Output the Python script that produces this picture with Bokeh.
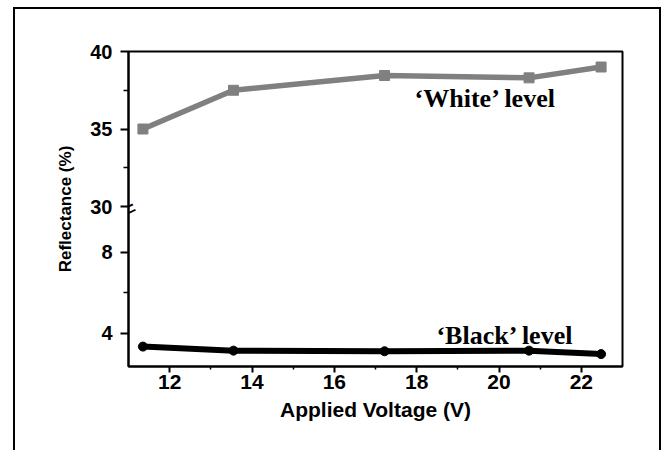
import math
from bokeh.plotting import figure
from bokeh.models import Range1d, LinearAxis, FixedTicker, Label, CustomJSTickFormatter
from bokeh.layouts import column
from bokeh.embed import file_html
from bokeh.resources import INLINE

# ---- data ----
voltage = [11.35, 13.55, 17.22, 20.73, 22.48]
white_level = [35.0, 37.5, 38.45, 38.3, 39.0]
black_level = [3.35, 3.15, 3.12, 3.15, 2.98]
x_ticks = [12, 14, 16, 18, 20, 22]
x_minor = [13, 15, 17, 19, 21]
upper_ticks = [30, 35, 40]
upper_minor = [32.5, 37.5]
lower_ticks = [4, 8]
lower_minor = [6]
white_text = "\u2018White\u2019 level"
black_text = "\u2018Black\u2019 level"

# ---- layout geometry (pixels) ----
FRAME_W, FRAME_H, PANEL_H = 494, 315, 155
X0, X1 = 11.0, 23.0
LOW0, LOW1 = 2.37, 10.0
UP0, UP1 = 30.0, 40.0

lo_per_px = (LOW1 - LOW0) / PANEL_H
up_per_px = (UP1 - UP0) / PANEL_H
m0, m1 = LOW0, LOW0 + FRAME_H * lo_per_px
u0, u1 = UP1 - FRAME_H * up_per_px, UP1
x_per_px = (X1 - X0) / FRAME_W


def to_main(v):
    return min(m0 + (v - u0) / up_per_px * lo_per_px, m1)


p = figure(width=644, height=441, x_range=Range1d(X0, X1), y_range=Range1d(m0, m1),
           output_backend="svg", toolbar_location=None,
           min_border_left=113, min_border_right=37, min_border_top=42, min_border_bottom=84,
           x_axis_location=None, y_axis_location=None)
p.extra_y_ranges = {"upper": Range1d(u0, u1)}
p.grid.visible = False
p.outline_line_color = "black"
p.outline_line_width = 2
p.background_fill_color = "white"
p.border_fill_color = "white"

SANS = "Liberation Sans"
SERIF = "Liberation Serif"

# left axis (broken)
yticker = FixedTicker(ticks=lower_ticks + [to_main(v) for v in upper_ticks],
                      minor_ticks=lower_minor + [to_main(v) for v in upper_minor])
cut = (LOW1 + to_main(UP0)) / 2
yfmt = CustomJSTickFormatter(args=dict(m0=m0, u0=u0, r=up_per_px / lo_per_px, cut=cut),
                             code="""
if (tick > cut) { return (u0 + (tick - m0) * r).toFixed(0); }
return tick.toFixed(0);
""")
yaxis = LinearAxis(ticker=yticker, formatter=yfmt)
yaxis.axis_line_width = 2
yaxis.major_tick_out = 8
yaxis.major_tick_in = 0
yaxis.minor_tick_out = 5
yaxis.minor_tick_in = 0
yaxis.major_tick_line_width = 2
yaxis.minor_tick_line_width = 1.5
yaxis.major_label_text_font = SANS
yaxis.major_label_text_font_style = "bold"
yaxis.major_label_text_font_size = "20px"
yaxis.major_label_text_color = "black"
yaxis.major_label_standoff = 8
yaxis.axis_label = "Reflectance (%)"
yaxis.axis_label_text_font = SANS
yaxis.axis_label_text_font_style = "bold"
yaxis.axis_label_text_font_size = "17px"
yaxis.axis_label_text_color = "black"
yaxis.axis_label_standoff = 12
p.add_layout(yaxis, "left")

xaxis = LinearAxis(ticker=FixedTicker(ticks=x_ticks, minor_ticks=x_minor))
xaxis.axis_line_width = 2
xaxis.major_tick_out = 6
xaxis.major_tick_in = 0
xaxis.minor_tick_out = 3
xaxis.minor_tick_in = 0
xaxis.major_tick_line_width = 2
xaxis.minor_tick_line_width = 1.5
xaxis.major_label_text_font = SANS
xaxis.major_label_text_font_style = "bold"
xaxis.major_label_text_font_size = "21px"
xaxis.major_label_text_color = "black"
xaxis.major_label_standoff = 2
xaxis.axis_label = "Applied Voltage (V)"
xaxis.axis_label_text_font = SANS
xaxis.axis_label_text_font_style = "bold"
xaxis.axis_label_text_font_size = "21px"
xaxis.axis_label_text_color = "black"
xaxis.axis_label_standoff = 6
p.add_layout(xaxis, "below")

# series
p.line(voltage, white_level, y_range_name="upper", line_color="#808080", line_width=5.5)
p.scatter(voltage, white_level, y_range_name="upper", marker="square", size=10,
          fill_color="#808080", line_color="#808080")
p.line(voltage, black_level, line_color="black", line_width=6)
p.scatter(voltage, black_level, marker="circle", size=9, fill_color="black", line_color="black")

# series labels
p.add_layout(Label(x=17.95, y=36.95, y_range_name="upper", text=white_text,
                   text_font=SERIF, text_font_style="bold", text_font_size="26px",
                   text_color="black", text_baseline="alphabetic"))
p.add_layout(Label(x=18.48, y=3.88, text=black_text,
                   text_font=SERIF, text_font_style="bold", text_font_size="26px",
                   text_color="black", text_baseline="alphabetic"))

# axis break mark
p.add_layout(Label(x=X0, y=m0 + (PANEL_H + 2.5) * lo_per_px, text="=",
                   angle=0.45, text_align="center", text_baseline="middle",
                   text_font=SANS, text_font_size="24px", text_color="black"))

layout = column(p, styles={"border-top": "2px solid black",
                           "border-left": "2px solid black",
                           "border-right": "2px solid black",
                           "margin-left": "13px", "margin-top": "7px"})

open("out.html", "w").write(file_html(layout, INLINE))
